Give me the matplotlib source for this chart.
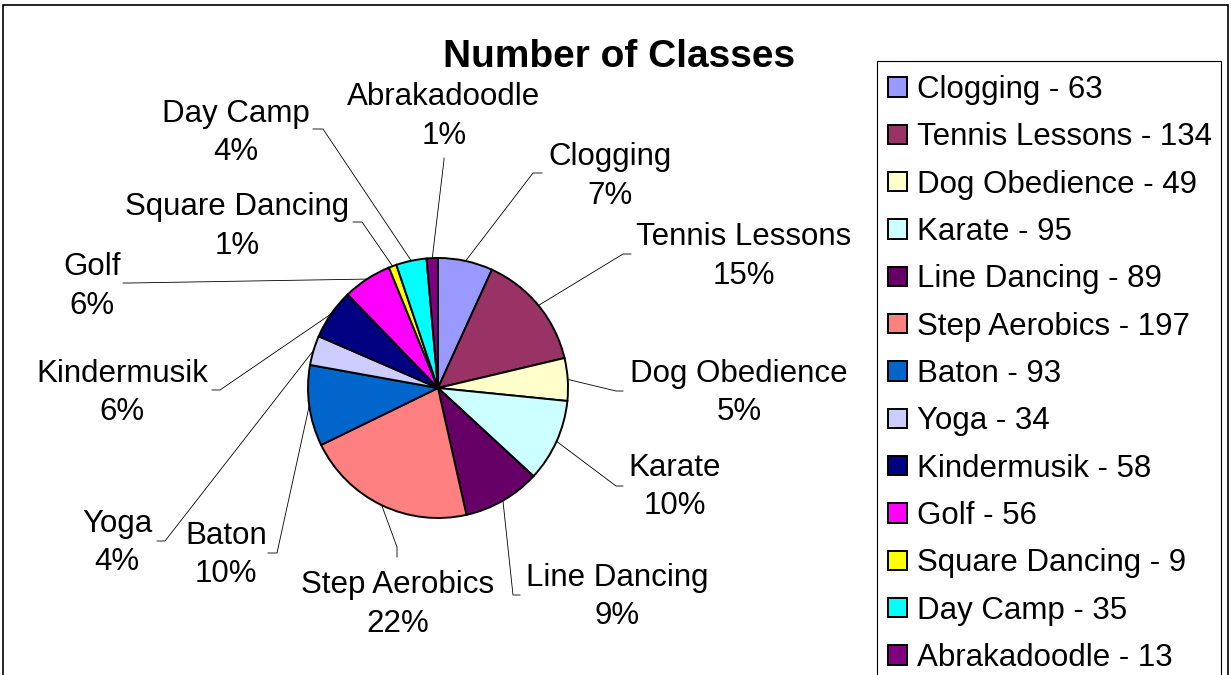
import numpy as np
import matplotlib
matplotlib.use('Agg')
import matplotlib.pyplot as plt
from matplotlib.patches import Rectangle

plt.rcParams['font.family'] = ['Liberation Sans', 'DejaVu Sans']

# number of classes per activity
classes = ['Clogging', 'Tennis Lessons', 'Dog Obedience', 'Karate', 'Line Dancing',
           'Step Aerobics', 'Baton', 'Yoga', 'Kindermusik', 'Golf',
           'Square Dancing', 'Day Camp', 'Abrakadoodle']
counts = [63, 134, 49, 95, 89, 197, 93, 34, 58, 56, 9, 35, 13]
# percentages as printed on the chart
pct_labels = ['7%', '15%', '5%', '10%', '9%', '22%', '10%', '4%', '6%', '6%',
              '1%', '4%', '1%']
colors = ['#9999FF', '#993366', '#FFFFCC', '#CCFFFF', '#660066', '#FF8080',
          '#0066CC', '#CCCCFF', '#000080', '#FF00FF', '#FFFF00', '#00FFFF',
          '#800080']

W, H = 1231, 675
cx, cy, r = 438, H - 388, 130
fs = 22.5

# label layout in image pixels (y down): centre x, baseline of first line
label_xy = [(610, 165), (744, 245), (739, 382), (675, 476), (617, 586),
            (398, 593), (226, 544), (117, 532), (122, 382), (92, 275),
            (237, 215), (236, 122), (444, 105)]
line_gap = 38.5
# leader line bends: elbow point, then end point
leader_pts = [((533, 173), (542, 173)), ((623, 254), (631, 254)),
              ((616, 391), (623, 391)), ((616, 486), (623, 486)),
              ((513, 595), (520, 595)), ((397, 547), (397, 557)),
              ((277, 553), (268, 553)), ((165, 541), (157, 541)),
              ((220, 390), (212, 390)), ((130, 283), (123, 283)),
              ((362, 222), (353, 222)), ((323, 129), (313, 129)),
              ((444, 160), (444, 158))]

fig = plt.figure(figsize=(W / 100, H / 100), dpi=100, facecolor='white')
ax = fig.add_axes([0, 0, 1, 1])

wedges, _ = ax.pie(counts, colors=colors, startangle=90, counterclock=False,
                   center=(cx, cy), radius=r, frame=True,
                   wedgeprops=dict(edgecolor='black', linewidth=1.4))

for w, name, pct, (lx, ly), (p1, p2) in zip(wedges, classes, pct_labels,
                                             label_xy, leader_pts):
    a = np.deg2rad((w.theta1 + w.theta2) / 2)
    sx, sy = cx + r * np.cos(a), cy + r * np.sin(a)
    ax.plot([sx, p1[0], p2[0]], [sy, H - p1[1], H - p2[1]],
            color='black', lw=0.6)
    ax.text(lx, H - ly, name, ha='center', va='baseline', fontsize=fs)
    ax.text(lx, H - ly - line_gap, pct, ha='center', va='baseline',
            fontsize=fs)

ax.text(619, H - 67, 'Number of Classes', ha='center', va='baseline',
        fontsize=28, fontweight='bold')

# outer chart border and legend box (both run off the bottom edge)
ax.add_patch(Rectangle((3, -20), 1225, H - 5 + 20, fill=False,
                       edgecolor='black', lw=1.2))
ax.add_patch(Rectangle((876.5, -20), 1221 - 876.5, H - 60.5 + 20,
                       fill=False, edgecolor='black', lw=0.8))

leg_labels = [f'{n} - {c}' for n, c in zip(classes, counts)]
ax.legend(wedges, leg_labels, loc='upper left',
          bbox_to_anchor=(887.5, H - 75), bbox_transform=ax.transData,
          frameon=False, fontsize=fs, borderpad=0, borderaxespad=0,
          handlelength=0.61, handleheight=0.58, handletextpad=0.32,
          labelspacing=0.555)

ax.set_xlim(0, W)
ax.set_ylim(0, H)
ax.set_aspect('equal')
ax.axis('off')

fig.savefig('out.png', dpi=100, facecolor='white')
